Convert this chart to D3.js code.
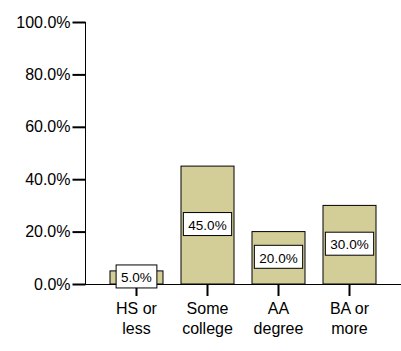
<!DOCTYPE html>
<html>
<head>
<meta charset="utf-8">
<script src="https://cdn.jsdelivr.net/npm/d3@7"></script>
<style>
  body { margin: 0; background: #fff; }
  text { font-family: "Liberation Sans", Arial, sans-serif; }
</style>
</head>
<body>
<div id="chart"></div>
<script>
// categories and values (percent)
let categories = [["HS or", "less"], ["Some", "college"], ["AA", "degree"], ["BA or", "more"]];
let values = [5, 45, 20, 30];
let yTicks = [0, 20, 40, 60, 80, 100];

let width = 401, height = 351;
let margin = {top: 22, right: 0, bottom: 67, left: 85};

let svg = d3.select("#chart")
    .append("svg")
    .attr("width", width)
    .attr("height", height);

let x = d3.scaleBand()
    .domain(d3.range(categories.length))
    .range([margin.left, width - margin.right])
    .paddingInner(0.2535)
    .paddingOuter(0.352);

let y = d3.scaleLinear()
    .domain([0, 100])
    .range([height - margin.bottom, margin.top]);

// bars
svg.selectAll("rect.bar")
    .data(values)
    .enter()
    .append("rect")
    .attr("class", "bar")
    .attr("x", (d, i) => x(i))
    .attr("y", d => y(d))
    .attr("width", x.bandwidth())
    .attr("height", d => y(0) - y(d))
    .attr("fill", "#d3ce98")
    .attr("stroke", "black")
    .attr("stroke-width", 1);

// x baseline
svg.append("line")
    .attr("x1", margin.left).attr("x2", width)
    .attr("y1", y(0) + 0.5).attr("y2", y(0) + 0.5)
    .attr("stroke", "black");

// y axis
let yAxis = d3.axisLeft(y)
    .tickValues(yTicks)
    .tickFormat(d => d.toFixed(1) + "%")
    .tickSize(13)
    .tickPadding(2);

let gy = svg.append("g")
    .attr("transform", "translate(" + (margin.left + 0.5) + ",0)")
    .call(yAxis);
gy.select(".domain").attr("d", "M0," + y(100) + "V" + y(0));
gy.selectAll(".tick line").attr("stroke-width", 2);
gy.selectAll("text").style("font-size", "16px").attr("fill", "black");

// x ticks + labels
let cat = svg.selectAll("g.cat")
    .data(categories)
    .enter()
    .append("g")
    .attr("class", "cat")
    .attr("transform", (d, i) => "translate(" + (x(i) + x.bandwidth() / 2) + "," + y(0) + ")");

cat.append("line")
    .attr("y1", 0).attr("y2", 12)
    .attr("stroke", "black").attr("stroke-width", 2);

cat.append("text")
    .attr("text-anchor", "middle")
    .style("font-size", "16px")
    .selectAll("tspan")
    .data(d => d)
    .enter()
    .append("tspan")
    .attr("x", 0)
    .attr("y", (d, i) => 30 + i * 20)
    .text(d => d);

// value labels
let lab = svg.selectAll("g.lab")
    .data(values)
    .enter()
    .append("g")
    .attr("class", "lab")
    .attr("transform", (d, i) => "translate(" + (x(i) + x.bandwidth() / 2) + "," + ((y(d) + y(0)) / 2) + ")");

lab.each(function (d) {
    let g = d3.select(this);
    let t = g.append("text")
        .attr("text-anchor", "middle")
        .attr("dy", "0.35em")
        .style("font-size", "13.5px")
        .text(d.toFixed(1) + "%");
    let w = t.node().getComputedTextLength() + 10;
    let h = 23;
    g.insert("rect", "text")
        .attr("x", -w / 2).attr("y", -h / 2 - 1)
        .attr("width", w).attr("height", h)
        .attr("fill", "white")
        .attr("stroke", "black");
});
</script>
</body>
</html>
